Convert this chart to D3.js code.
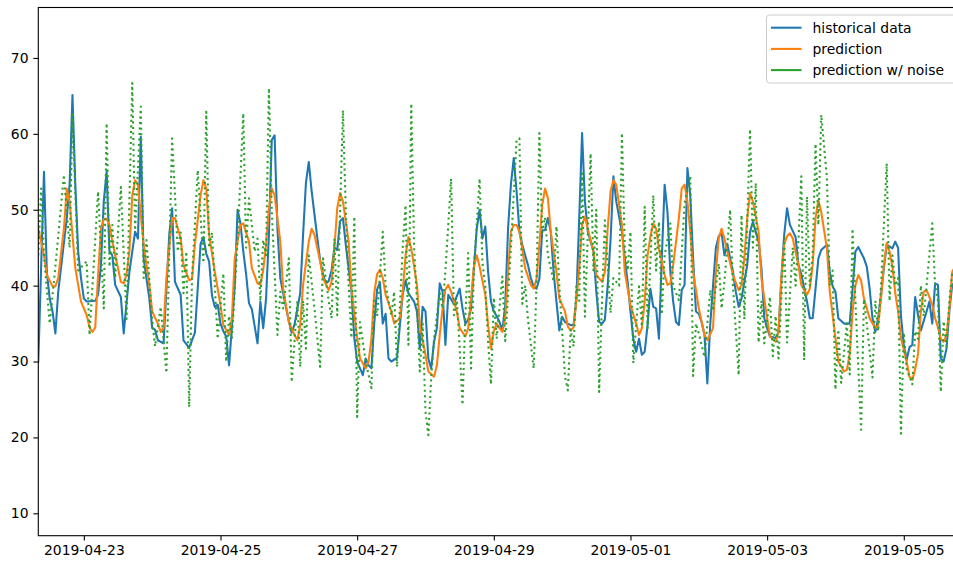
<!DOCTYPE html>
<html>
<head>
<meta charset="utf-8">
<script src="https://cdn.jsdelivr.net/npm/d3@7"></script>
<style>
  html, body { margin: 0; padding: 0; background: #fff; }
  svg { display: block; font-family: "DejaVu Sans", sans-serif; }
</style>
</head>
<body>
<svg id="chart" width="953" height="563"></svg>
<script>
// hourly series, [hours after startTime, value]
var startTime = "2019-04-22T08:00:00Z";

var histData = [[0,30],[2,55],[3,41.8],[4,38.3],[5,36.6],[6,33.7],[7,39.2],[10,48.9],[11,53.3],[12,65.1],[13,53.3],[14,44.5],[15,41],[16,38.3],[17,37.9],[20,38],[21,38.8],[22,42.7],[23,51.1],[24,55],[25,44.5],[26,44],[27,40.1],[29,38.5],[30,33.7],[32,41.8],[34,47.1],[35,46.2],[36,59.6],[37,43.6],[39,38.3],[40,34.4],[41,34.2],[42,32.8],[44,32.4],[46,46.7],[47,50.2],[48,40.5],[50,38.8],[51,32.8],[53,31.8],[55,33.8],[57,45.5],[58,46.4],[59,44.2],[60,43.2],[61,38.7],[62,37.2],[63,37.5],[64,35],[65,34],[66,33.3],[67,29.5],[68,34.5],[69,40],[70,50],[71,48.2],[72,44.5],[73,41.5],[74,37.7],[75,36.9],[77,32.4],[78,37.9],[79,34.4],[80,38.3],[81,46.7],[82,59.2],[83,59.8],[84,47.5],[85,41],[86,39],[88,35.3],[89,33.8],[90,34.9],[92,39],[93,46.7],[94,53.5],[95,56.3],[96,52.5],[98,46.3],[99,43.3],[100,41.5],[101,40.3],[102,40.6],[103,42],[104,45],[105,44.7],[106,48.5],[107,48.9],[108,45.4],[110,39.2],[111,33.1],[112,30],[113,29.1],[114,28.2],[115,30.4],[116,29.5],[117,29.1],[118,35],[119,39.5],[120,40.4],[121,35],[122,36.3],[123,30.4],[124,30],[126,30.5],[127,34.8],[128,38.8],[129,40.7],[130,39],[132,37.9],[133,36.6],[134,31.7],[135,37.2],[136,36.6],[137,30.4],[138,29.1],[139,32.6],[140,34.4],[141,40.3],[142,39.2],[143,32.2],[144,38.8],[146,37.6],[148,39.6],[149,37],[150,35],[151,35.5],[152,37],[153,42.3],[154,47.5],[155,50],[156,46.2],[157,47.8],[158,41.8],[159,37.9],[160,36.6],[161,36],[162,35.2],[163,34.1],[164,37.4],[165,47.5],[166,53.3],[167,56.8],[168,52.4],[169,47.1],[170,45.4],[171,44],[172,42.7],[173,41],[174,39.8],[175,39.6],[176,40.9],[177,47.3],[178,47.3],[179,48.9],[180,47.1],[181,41.8],[182,37.9],[183,34.1],[184,35.9],[185,35.2],[187,34.8],[188,34.8],[189,38.3],[190,48.9],[191,60.1],[192,51.1],[193,47.1],[195,44.5],[196,39.2],[197,35.2],[198,35],[199,35.5],[200,40],[201,46],[202,54.4],[203,51.1],[205,47.1],[206,43.6],[207,40.5],[208,36.6],[209,33],[210,31.3],[211,33],[212,30.9],[213,31.3],[214,34.8],[215,39.6],[216,37.2],[217,37],[218,33],[219,43.6],[220,53.3],[221,49.7],[222,41.8],[223,37.9],[224,35.2],[225,34.8],[226,39.4],[227,40.1],[228,55.5],[229,51.9],[230,43.6],[231,36.6],[232,36.3],[233,35.2],[234,33.5],[235,27.1],[236,34.8],[237,40],[238,45],[239,46.5],[240,47],[241,44],[242,45.5],[243,43.6],[244,41.8],[245,39.2],[246,37.2],[247,38.3],[249,42.7],[250,47.1],[251,48.4],[253,45.8],[254,42.3],[255,35.7],[256,34.4],[257,33.3],[259,33.1],[260,33.9],[261,41],[262,46.7],[263,50.2],[264,48],[266,46.4],[267,42.7],[268,41.5],[270,37.9],[271,35.7],[272,35.7],[273,39.6],[274,43.6],[275,44.7],[277,45.4],[278,41.8],[279,39.9],[280,39.2],[281,35.7],[283,35],[284,35],[285,35],[286,39.5],[287,44.5],[288,45.1],[290,43.6],[291,42.5],[292,39.6],[293,35.7],[294,33.9],[295,35.7],[296,38.8],[297,42.3],[298,45.4],[300,44.9],[301,45.8],[302,45],[303,36],[304,32.2],[305,30.2],[306,31.9],[307,32.2],[308,38.5],[309,36.1],[310,34.1],[312,36.6],[313,37.9],[314,35],[315,40.3],[316,40.1],[317,30.4],[318,30],[319,31.7],[320,36.6],[321,40.1],[322,40.5]];

var predData = [[0,47.5],[2,44],[3,41.4],[5,39.9],[6,39.9],[7,41],[9,47.5],[10,52.8],[11,51.1],[12,46.7],[13,42.3],[15,37.9],[17,36.1],[18,34.5],[19,33.9],[20,34.5],[21,41.4],[22,47.5],[23,48.8],[24,48.8],[25,48],[26,45.8],[28,42.3],[29,40.5],[30,40.3],[31,41.5],[32,44.5],[33,51.9],[34,53.9],[35,53.3],[36,49.3],[37,45.4],[39,40.1],[40,36.6],[42,35],[43,33.9],[44,34.4],[45,41],[47,48.9],[48,48.9],[50,46.2],[51,42.7],[53,40.7],[54,40.9],[55,45.4],[57,51.9],[58,53.9],[59,52.8],[60,46.7],[62,41.8],[64,37.4],[65,34.8],[67,33.5],[68,35.7],[69,43.6],[71,48],[72,48.2],[74,45.8],[75,42.3],[77,40.3],[78,40.1],[79,42],[80,45.5],[81,50.2],[82,52.8],[83,51.9],[85,45.8],[86,39.6],[88,35.2],[90,33.5],[91,32.8],[92,34.8],[93,40.1],[95,45.8],[96,47.5],[97,46.7],[99,43.2],[100,41],[102,39.4],[103,40.5],[104,44.9],[105,50.2],[106,52.2],[107,51.1],[109,45.8],[110,39.6],[112,33.1],[113,30.4],[115,29.1],[116,30],[117,33],[118,39],[119,41.5],[120,42.1],[121,41],[122,38.8],[124,36.6],[125,35],[127,35.7],[128,39.2],[129,44],[130,46.4],[131,44.9],[133,40.1],[134,34.8],[136,30.9],[137,28.7],[139,28],[140,29.5],[141,33.5],[142,37],[143,39.5],[144,40.1],[145,39.2],[147,36.6],[148,34.4],[150,33.3],[151,34.4],[152,38.3],[153,42.5],[154,44],[155,42.5],[157,38.8],[158,34.8],[159,31.7],[160,34],[161,35],[162,34.4],[163,33.9],[164,35.7],[165,41.8],[166,47.1],[167,48],[168,48],[169,47.1],[170,44.9],[171,42.3],[173,40.1],[174,39.6],[175,40.9],[176,45.4],[177,50.6],[178,52.8],[179,51.5],[180,47.1],[182,41.8],[183,38.3],[185,36.6],[186,34.6],[187,34.1],[188,34.5],[189,38],[190,42.3],[191,48],[192,49.1],[193,47.5],[195,44.5],[196,41.4],[198,40.5],[199,41.8],[200,47.5],[201,52.4],[202,53.9],[203,53.3],[205,48],[206,41.8],[208,37.4],[210,35],[211,33.5],[212,34.4],[213,38],[214,44],[215,46.5],[216,48.2],[217,47.5],[218,44.9],[220,41.4],[221,40.1],[222,40.3],[223,42.7],[225,48.9],[226,52.8],[227,53.3],[228,51.1],[229,47.1],[230,41.8],[232,37],[233,35.2],[234,33.5],[235,32.8],[237,34.4],[238,41.8],[239,46.2],[240,47.5],[241,46.2],[242,44.5],[243,43],[244,41.4],[246,39.4],[247,40.1],[248,43.6],[249,48.9],[250,52.2],[251,51.1],[253,47.1],[254,41],[256,35.7],[257,33.3],[259,32.6],[260,33.9],[261,41],[262,45.5],[263,46.5],[264,46.9],[265,46.2],[267,42.7],[268,40.1],[270,38.8],[271,39.6],[272,42.7],[273,48.9],[274,51.3],[275,49.7],[277,44.9],[278,39.2],[280,33.1],[281,30],[283,28.7],[284,28.9],[285,31],[286,36.5],[287,40],[288,41.4],[289,40.7],[290,38.3],[292,35.7],[294,34.4],[295,34.8],[296,38.3],[297,42.7],[298,45.6],[299,44.5],[300,42.5],[301,39],[302,36.6],[303,33.1],[305,30],[306,28],[307,27.6],[308,29],[309,31],[310,36.6],[311,39.2],[312,39.4],[313,38.5],[314,37.5],[315,35.7],[316,34.5],[317,33],[318,32.6],[319,33.5],[320,36.9],[321,41.8],[322,42.5]];

var noiseData = [[0,44],[1,52.8],[2,44],[4,35],[6,42.5],[9,54.6],[11,45],[12,62.5],[14,42],[17,43.2],[18,33.5],[21,52.4],[23,37],[24,61.4],[25,42.5],[26,48],[27,41],[29,53],[31,35.6],[33,66.7],[34,47.3],[36,63.6],[37,41],[38,46],[40,35.5],[41,32],[43,37.2],[45,28.5],[47,59.4],[49,44.5],[50,47],[51,39],[52,44.5],[53,24],[54,41],[56,55.2],[58,43],[59,62.9],[60,45],[61,47],[62,40],[63,33],[65,41.6],[66,30],[67,36],[68,33],[70,46],[72,62.7],[73,45],[74,51.5],[76,44.5],[77,46.2],[78,38],[79,46],[80,44],[81,66],[82,50],[84,33.5],[85,39.2],[86,37],[88,43.6],[89,27.3],[91,38],[92,29.3],[93,38],[94,31.7],[95,44],[97,37],[99,29.3],[100,43.6],[102,38],[103,35.7],[104,46.2],[105,36.1],[107,63.1],[108,50],[109,40],[110,33.1],[111,49.1],[112,22.7],[113,35.2],[115,30],[117,26.5],[118,38],[119,36],[121,47.1],[122,40],[124,36.1],[125,39.2],[126,29.3],[128,45],[129,50.6],[130,32.2],[131,64],[132,45],[133,38],[134,28.7],[135,35],[136,23.4],[137,20.3],[138,27.8],[139,33],[140,36],[141,39],[142,37],[143,42],[145,54.1],[146,36.1],[147,38],[148,32],[149,24.3],[150,36],[151,44.3],[152,29.1],[153,42],[155,54.1],[156,43],[157,40],[158,32.6],[159,27],[160,38.4],[161,33],[163,41.2],[164,32.7],[166,45],[168,59.2],[169,59.4],[170,37.6],[171,40],[172,35.5],[174,29.1],[175,40],[176,60.1],[177,47],[178,49],[179,44],[181,40.6],[182,47.8],[183,40],[185,28],[186,26.2],[187,34.2],[188,32],[189,40],[190,38],[191,54.8],[192,35.9],[194,57.4],[195,42],[196,50],[197,26],[198,38],[199,48.6],[201,36.4],[202,41],[204,40],[205,60.1],[206,45],[207,42],[208,47.1],[209,29.8],[211,39.9],[212,34.6],[213,50.4],[214,34.4],[216,51.9],[217,42],[218,48.4],[219,36.2],[220,44],[222,48.2],[223,40],[225,38.1],[227,50.8],[229,54.4],[230,28.1],[231,35],[232,33.7],[234,30.6],[236,39.4],[237,37],[239,42.9],[240,37],[241,40.5],[243,50],[244,40],[246,28.2],[247,49.3],[248,35.6],[250,60.6],[251,45],[252,53.5],[253,32.5],[254,38],[255,32.4],[257,38.5],[258,30.7],[259,36],[260,30.4],[262,46.3],[263,32.5],[265,45],[266,40],[267,46],[268,54.4],[269,30.2],[270,51.7],[271,40],[272,44],[273,58.7],[274,48],[275,62.5],[277,54.2],[278,40],[279,42],[280,26.3],[281,34.2],[282,27.2],[284,35],[285,28.3],[286,47.5],[287,38],[289,21],[290,38.2],[291,35],[293,27.9],[294,38],[295,34],[296,40],[298,56.1],[299,38],[300,44],[301,40],[302,41],[303,20.5],[304,33.8],[305,29],[307,27],[308,34],[309,33],[310,40],[311,36],[312,40],[314,48.2],[315,40],[316,38],[317,26],[318,35.3],[319,32],[320,38],[321,41.8],[322,42]];

var xTickLabels = ["2019-04-23", "2019-04-25", "2019-04-27", "2019-04-29", "2019-05-01", "2019-05-03", "2019-05-05"];
var yTicks = [10, 20, 30, 40, 50, 60, 70];
var yDomain = [7.05, 76.65];
var legendLabels = ["historical data", "prediction", "prediction w/ noise"];
var colors = ["#1f77b4", "#ff7f0e", "#2ca02c"];

var svg = d3.select("#chart");
var fontSize = "13.9px";

// axes box, right edge runs past the picture
var box = {left: 38.3, top: 7.5, right: 966, bottom: 535.7};

var t0 = d3.isoParse(startTime);
function toTime(h) { return new Date(t0.getTime() + h * 3600000); }

var x = d3.scaleUtc()
    .domain([toTime(0), toTime(322)])
    .range([box.left, box.left + 322 * 2.847]);

var y = d3.scaleLinear()
    .domain(yDomain)
    .range([box.bottom, box.top]);

svg.append("defs").append("clipPath").attr("id", "clip")
    .append("rect")
    .attr("x", box.left).attr("y", box.top)
    .attr("width", box.right - box.left).attr("height", box.bottom - box.top);

var line = d3.line()
    .x(function (d) { return x(toTime(d[0])); })
    .y(function (d) { return y(d[1]); });

var plot = svg.append("g").attr("clip-path", "url(#clip)");

plot.append("path").datum(histData)
    .attr("d", line).attr("fill", "none")
    .attr("stroke", colors[0]).attr("stroke-width", 2.08)
    .attr("stroke-linejoin", "round").attr("stroke-linecap", "square");

plot.append("path").datum(predData)
    .attr("d", line).attr("fill", "none")
    .attr("stroke", colors[1]).attr("stroke-width", 2.08)
    .attr("stroke-linejoin", "round").attr("stroke-linecap", "square");

plot.append("path").datum(noiseData)
    .attr("d", line).attr("fill", "none")
    .attr("stroke", colors[2]).attr("stroke-width", 2.08)
    .attr("stroke-dasharray", "2.08 3.44")
    .attr("stroke-linejoin", "round");

// spines
svg.append("rect")
    .attr("x", box.left).attr("y", box.top)
    .attr("width", box.right - box.left).attr("height", box.bottom - box.top)
    .attr("fill", "none").attr("stroke", "#000").attr("stroke-width", 1.1);

var xAxis = d3.axisBottom(x)
    .tickValues(xTickLabels.map(function (s) { return d3.utcParse("%Y-%m-%d")(s); }))
    .tickFormat(d3.utcFormat("%Y-%m-%d"))
    .tickSize(4.9).tickPadding(4.9);

var yAxis = d3.axisLeft(y)
    .tickValues(yTicks)
    .tickSize(4.9).tickPadding(4.9);

var gx = svg.append("g").attr("transform", "translate(0," + box.bottom + ")").call(xAxis);
var gy = svg.append("g").attr("transform", "translate(" + box.left + ",0)").call(yAxis);

[gx, gy].forEach(function (g) {
    g.select(".domain").remove();
    g.selectAll(".tick line").attr("stroke", "#000").attr("stroke-width", 1.1);
    g.selectAll(".tick text").attr("fill", "#000")
        .style("font-size", fontSize).style("font-family", "DejaVu Sans, sans-serif");
});

// legend
var legend = svg.append("g").attr("transform", "translate(766.5,15)");
legend.append("rect")
    .attr("width", 200).attr("height", 68).attr("rx", 3)
    .attr("fill", "#fff").attr("fill-opacity", 0.8)
    .attr("stroke", "#cccccc").attr("stroke-width", 1);

legendLabels.forEach(function (label, i) {
    var ly = 12.7 + i * 21.2;
    legend.append("line")
        .attr("x1", 4.5).attr("x2", 35).attr("y1", ly).attr("y2", ly)
        .attr("stroke", colors[i]).attr("stroke-width", 2.08);
    legend.append("text")
        .attr("x", 46).attr("y", ly).attr("dy", "0.36em")
        .style("font-size", fontSize)
        .text(label);
});
</script>
</body>
</html>
